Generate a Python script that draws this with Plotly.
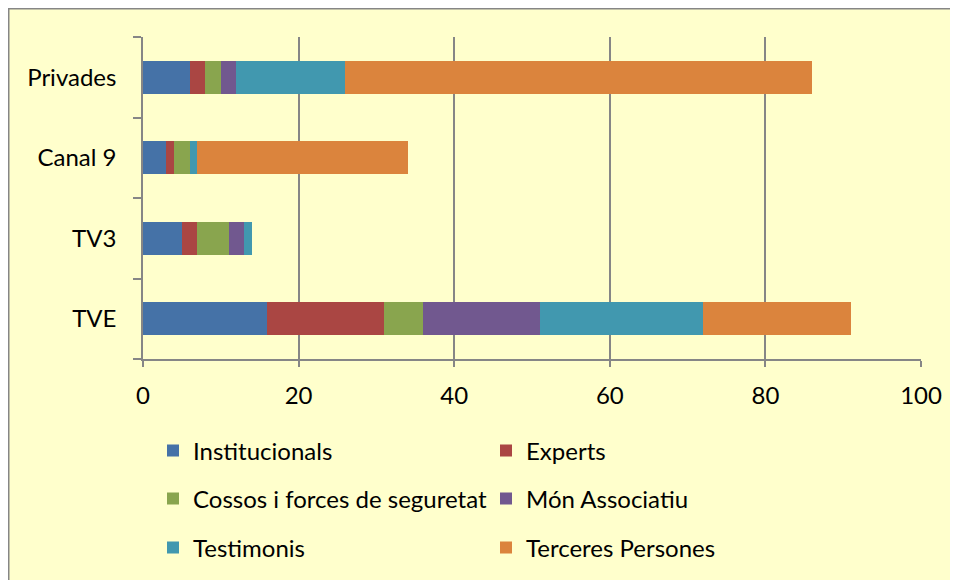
import plotly.graph_objects as go

categories = ["TVE", "TV3", "Canal 9", "Privades"]
series_names = ["Institucionals", "Experts", "Cossos i forces de seguretat",
                "Món Associatiu", "Testimonis", "Terceres Persones"]
institucionals = [16, 5, 3, 6]
experts = [15, 2, 1, 2]
cossos = [5, 4, 2, 2]
mon_associatiu = [15, 2, 0, 2]
testimonis = [21, 1, 1, 14]
terceres = [19, 0, 27, 60]
x_ticks = [0, 20, 40, 60, 80, 100]

series_values = [institucionals, experts, cossos, mon_associatiu, testimonis, terceres]
colors = ["#4572A7", "#AA4643", "#89A54E", "#71588F", "#4198AF", "#DB843D"]
legend_ids = ["legend", "legend", "legend2", "legend2", "legend3", "legend3"]

W, H = 958, 580
L, R, T, B = 135, 913, 29, 351

def px(xp):
    return (xp - L) / (R - L)

def py(yp):
    return (B - yp) / (B - T)

FONT = "Lato, 'Open Sans', sans-serif"
FS = 24

fig = go.Figure()
for name, vals, col, lg in zip(series_names, series_values, colors, legend_ids):
    fig.add_trace(go.Bar(
        y=categories, x=vals, name=name, orientation="h",
        marker=dict(color=col, line=dict(width=0)),
        legend=lg,
    ))

legend_common = dict(
    orientation="h", xref="paper", yref="paper",
    xanchor="left", yanchor="middle",
    entrywidth=288, entrywidthmode="pixels",
    font=dict(family=FONT, size=FS, color="#000000"),
    bgcolor="rgba(0,0,0,0)", itemclick=False, itemdoubleclick=False,
    traceorder="normal",
)

fig.update_layout(
    width=W, height=H,
    margin=dict(l=L, r=W - R, t=T, b=H - B, autoexpand=False),
    paper_bgcolor="#FFFFCC",
    plot_bgcolor="rgba(0,0,0,0)",
    barmode="stack",
    bargap=0.59,
    font=dict(family=FONT, size=FS, color="#000000"),
    legend=dict(**legend_common, x=px(145), y=py(443)),
    legend2=dict(**legend_common, x=px(145), y=py(491)),
    legend3=dict(**legend_common, x=px(145), y=py(540)),
    xaxis=dict(
        range=[0, 100], tickvals=x_ticks, ticktext=[str(v) for v in x_ticks],
        showgrid=True, gridcolor="#868686", gridwidth=1.5,
        showline=True, linecolor="#868686", linewidth=1.5,
        ticks="outside", ticklen=6, tickcolor="#868686", tickwidth=1.5,
        ticklabelstandoff=8,
        zeroline=False, fixedrange=True,
        tickfont=dict(family=FONT, size=FS),
    ),
    yaxis=dict(
        categoryorder="array", categoryarray=categories,
        showgrid=False, showline=True, linecolor="#868686", linewidth=1.5,
        ticks="outside", ticklen=8, tickcolor="#868686", tickwidth=1.5,
        tickson="boundaries", ticklabelstandoff=20,
        zeroline=False, fixedrange=True,
        tickfont=dict(family=FONT, size=FS),
    ),
    shapes=[dict(
        type="rect", xref="paper", yref="paper", layer="below",
        x0=px(0.75), x1=px(970), y0=py(0.75), y1=py(590),
        fillcolor="rgba(0,0,0,0)", line=dict(color="#868686", width=1.5),
    )],
)

fig.write_html("out.html")
